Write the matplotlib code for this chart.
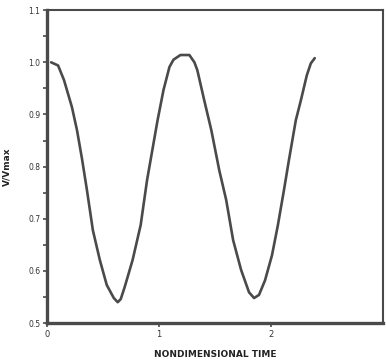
import matplotlib
matplotlib.use('Agg')
import matplotlib.pyplot as plt
import numpy as np

t = [0.036, 0.098, 0.151, 0.222, 0.267, 0.311, 0.356, 0.409, 0.471, 0.533,
     0.596, 0.631, 0.658, 0.693, 0.764, 0.836, 0.893, 0.924, 0.987, 1.040,
     1.093, 1.129, 1.191, 1.271, 1.316, 1.342, 1.404, 1.467, 1.538, 1.600,
     1.662, 1.733, 1.804, 1.849, 1.893, 1.947, 2.009, 2.062, 2.116, 2.160,
     2.222, 2.267, 2.320, 2.356, 2.391]
v = [1.000, 0.994, 0.966, 0.914, 0.870, 0.816, 0.755, 0.678, 0.621, 0.573,
     0.548, 0.540, 0.546, 0.569, 0.621, 0.688, 0.774, 0.812, 0.889, 0.947,
     0.991, 1.005, 1.014, 1.014, 1.000, 0.985, 0.927, 0.870, 0.793, 0.736,
     0.659, 0.602, 0.559, 0.548, 0.554, 0.582, 0.630, 0.688, 0.755, 0.812,
     0.889, 0.927, 0.975, 0.998, 1.008]

y_ticks = [0.5, 0.6, 0.7, 0.8, 0.9, 1.0, 1.1]
y_labels = ['0.5', '0.6', '0.7', '0.8', '0.9', '1.0', '1.1']
x_ticks = [0, 1, 2]
x_labels = ['0', '1', '2']

grey = '#4a4a4a'

fig = plt.figure(figsize=(3.86, 3.63), dpi=100)
ax = fig.add_axes([0.122, 0.110, 0.870, 0.862])

ax.plot(t, v, color=grey, linewidth=1.9, solid_joinstyle='round',
        solid_capstyle='round')

ax.set_xlim(0, 3)
ax.set_ylim(0.5, 1.1)

ax.set_yticks(y_ticks)
ax.set_yticklabels(y_labels, fontsize=5.5, color='#333333')
ax.set_yticks(np.arange(0.55, 1.1, 0.1), minor=True)
ax.set_xticks(x_ticks)
ax.set_xticklabels(x_labels, fontsize=6, color='#333333')

ax.tick_params(axis='both', which='both', direction='out', color=grey,
               width=1.2, length=3, pad=2)

for side in ['left', 'bottom']:
    ax.spines[side].set_linewidth(2.4)
    ax.spines[side].set_color(grey)
for side in ['top', 'right']:
    ax.spines[side].set_linewidth(1.5)
    ax.spines[side].set_color(grey)

ax.set_xlabel('NONDIMENSIONAL TIME', fontsize=6.5, fontweight='bold',
              color='#222222')
ax.set_ylabel('V/Vmax', fontsize=6.5, fontweight='bold', color='#222222')
ax.xaxis.set_label_coords(0.5, -0.085)
ax.yaxis.set_label_coords(-0.105, 0.5)

fig.savefig('out.png', dpi=100)
